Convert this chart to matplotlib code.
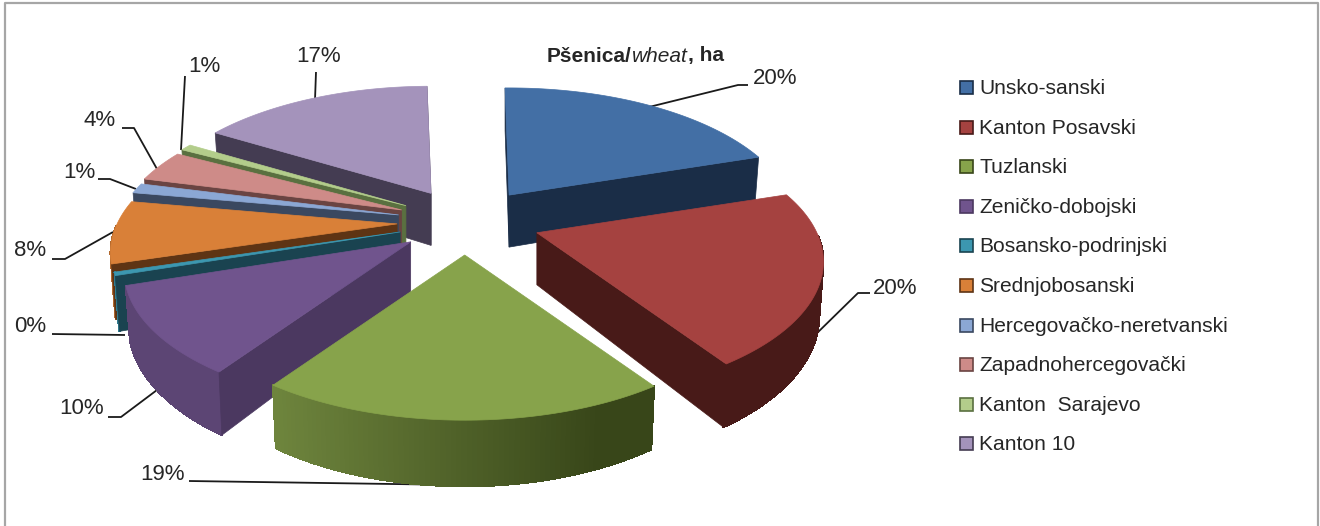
import numpy as np
import matplotlib
matplotlib.use('Agg')
import matplotlib.pyplot as plt
from matplotlib.collections import PolyCollection
from matplotlib.colors import to_rgb

plt.rcParams['font.family'] = ['Liberation Sans', 'DejaVu Sans']

kantoni = ['Unsko-sanski', 'Kanton Posavski', 'Tuzlanski', 'Zeničko-dobojski', 'Bosansko-podrinjski',
           'Srednjobosanski', 'Hercegovačko-neretvanski', 'Zapadnohercegovački', 'Kanton  Sarajevo', 'Kanton 10']
postotak = [20, 20, 19, 10, 0, 8, 1, 4, 1, 17]                          # as printed on the chart
udio = [20.2, 20.6, 18.9, 10.36, 0.4, 7.5, 1.2, 3.8, 0.8, 16.04]        # slice shares as drawn

boje = ['#436fa5', '#a54240', '#87a34b', '#70548d', '#3c97b0', '#d98038', '#8ba7d4', '#ce8b88', '#b3cd8b', '#a493bb']
tamne = ['#1a2d47', '#481a18', '#384619', '#4b3860', '#1a4350', '#5e3414', '#3a4860', '#6a4442', '#5a7040', '#443c52']

# position of the percentage text and its leader line, pixels
label_pos = [(775, 79), (895, 288), (163, 474), (82, 409), (30, 327), (30, 251), (79, 173), (100, 121), (204, 67), (319, 57)]
leader = [[(649, 107), (738, 85), (748, 85)],
          [(812, 338), (858, 293), (870, 293)],
          [(460, 485), (189, 481)],
          [(157, 390), (121, 417), (108, 417)],
          [(125, 335), (52, 334)],
          [(113, 232), (65, 259), (52, 259)],
          [(136, 189), (110, 179), (98, 179)],
          [(157, 169), (134, 128), (122, 128)],
          [(181, 150), (185, 76)],
          [(315, 100), (316, 72)]]

# pie geometry
CX, CY = 465, 222
R, RK = 280, 130
P = 0.213            # perspective
EX_D, EX_L = 76, 68  # explosion in x, right and left side
EY = 33              # explosion in y
H = 52               # thickness
POCETAK = np.radians(-1)

# back to front
redoslijed = [9, 0, 8, 7, 6, 5, 4, 3, 1, 2]

fig = plt.figure(figsize=(13.2, 5.26), dpi=100)
ax = fig.add_axes([0, 0, 1, 1])
ax.set_xlim(0, 1320)
ax.set_ylim(526, 0)
ax.axis('off')

# frame
ax.plot([5, 5, 1318, 1318], [526, 3, 3, 526], color='#a6a6a6', lw=1.6)

granice = POCETAK + np.cumsum([0] + udio) / sum(udio) * 2 * np.pi
for i in redoslijed:
    a0, a1 = granice[i], granice[i + 1]
    mid = (a0 + a1) / 2
    tx = CX + (EX_D if np.sin(mid) > 0 else EX_L) * np.sin(mid)
    ty = CY - EY * np.cos(mid)
    ugao = np.linspace(a0, a1, 80)
    u = np.sin(ugao)
    v = -np.cos(ugao)
    s = 1 / (1 - P * v)
    gx = tx + R * u * s
    gy = ty + RK * v * s
    # bottom edge of the rim, leans a little to the middle
    dx = tx + R * u * s * 0.985
    dy = gy + H * s

    # rim only where it faces the viewer, darker to the right
    kvad = []
    rim_boje = []
    svijetla = np.array(to_rgb(boje[i])) * 0.82
    tamna = np.array(to_rgb(tamne[i]))
    for k in range(len(u) - 1):
        if v[k] < 0.02:
            continue
        kvad.append([(gx[k], gy[k]), (gx[k + 1], gy[k + 1]), (dx[k + 1], dy[k + 1]), (dx[k], dy[k])])
        t = np.clip((gx[k] - 270) / 330, 0, 1)
        rim_boje.append(svijetla * (1 - t) + tamna * t)
    if kvad:
        ax.add_collection(PolyCollection(kvad, facecolors=rim_boje, edgecolors=rim_boje, linewidths=0.8,
                                         antialiaseds=False, zorder=2))

    # cut faces which look at the viewer
    if -np.cos(a0 - np.pi / 2) > -0.05:
        ax.fill([tx, gx[0], dx[0], tx], [ty, gy[0], dy[0], ty + H], color=tamne[i], lw=0.5, zorder=2)
    if -np.cos(a1 + np.pi / 2) > -0.05:
        ax.fill([tx, gx[-1], dx[-1], tx], [ty, gy[-1], dy[-1], ty + H], color=tamne[i], lw=0.5, zorder=2)

    # top face
    ax.fill(np.r_[tx, gx], np.r_[ty, gy], color=boje[i], lw=0.5, zorder=2)

# percentage labels and leaders
for i in range(len(postotak)):
    xs, ys = zip(*leader[i])
    ax.plot(xs, ys, color='#1a1a1a', lw=1.3, zorder=1, solid_capstyle='butt')
    ax.text(label_pos[i][0], label_pos[i][1], f'{postotak[i]}%', fontsize=16, color='#262626', ha='center', va='center')

# legend
leg_y = [87, 127, 166, 206, 245, 285, 325, 364, 404, 443]
for i in range(len(kantoni)):
    ax.fill([960, 973, 973, 960], [leg_y[i] - 6.5, leg_y[i] - 6.5, leg_y[i] + 6.5, leg_y[i] + 6.5],
            facecolor=boje[i], edgecolor=tamne[i], lw=1.2)
    ax.text(979, leg_y[i] + 1.5, kantoni[i], fontsize=15.1, color='#262626', ha='left', va='center')

# title, bold / italic pieces
fig.canvas.draw()
rnd = fig.canvas.get_renderer()
x = 547
for tekst, stil, tezina in [('Pšenica/', 'normal', 'bold'), ('wheat', 'italic', 'normal'), (', ha', 'normal', 'bold')]:
    t = ax.text(x, 56, tekst, fontsize=15, style=stil, weight=tezina, color='#262626', ha='left', va='center')
    x = ax.transData.inverted().transform(t.get_window_extent(rnd))[1, 0]

fig.savefig('out.png', dpi=100)
